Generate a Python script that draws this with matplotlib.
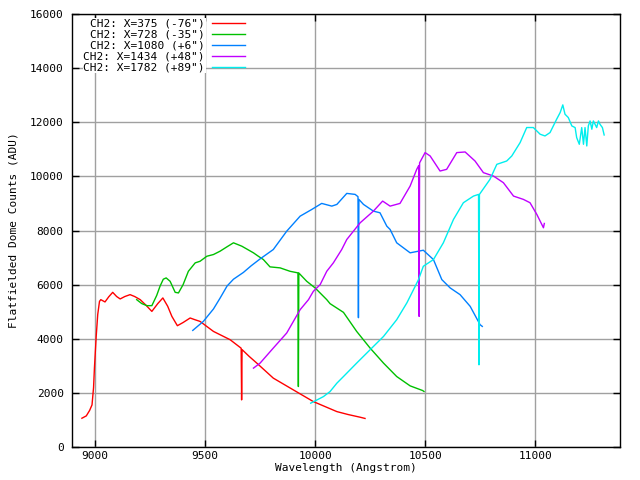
import matplotlib
matplotlib.use("Agg")
from matplotlib import pyplot as plt

wl_375 = [8940, 8960, 8975, 8986, 8993, 8997, 9005, 9012, 9020, 9026, 9045, 9062, 9080, 9098,
          9114, 9135, 9159, 9180, 9205, 9230, 9258, 9285, 9308, 9330, 9349, 9374, 9400, 9432,
          9455, 9477, 9538, 9614, 9664, 9666, 9668, 9700, 9735, 9810, 9901, 9992, 10099, 10150,
          10205, 10227]
ct_375 = [1063, 1150, 1350, 1556, 2200, 2926, 4085, 4900, 5382, 5445, 5360, 5550, 5715, 5560,
          5471, 5560, 5630, 5560, 5445, 5250, 5011, 5300, 5508, 5200, 4826, 4482, 4600, 4767,
          4700, 4641, 4271, 3963, 3650, 1741, 3600, 3350, 3100, 2545, 2111, 1678, 1308, 1200,
          1100, 1055]

wl_728 = [9189, 9212, 9235, 9258, 9280, 9295, 9310, 9323, 9341, 9364, 9379, 9400, 9424, 9455,
          9477, 9508, 9538, 9568, 9600, 9629, 9667, 9720, 9742, 9765, 9795, 9841, 9886, 9922,
          9924, 9926, 9962, 10000, 10053, 10068, 10129, 10189, 10250, 10311, 10371, 10432,
          10489, 10495]
ct_728 = [5445, 5300, 5223, 5223, 5600, 5938, 6200, 6248, 6123, 5715, 5693, 6000, 6493, 6804,
          6863, 7049, 7112, 7235, 7400, 7545, 7420, 7174, 7049, 6926, 6656, 6619, 6493, 6434,
          2234, 6430, 6123, 5878, 5445, 5297, 4975, 4271, 3656, 3100, 2604, 2259,
          2086, 2050]

wl_1080 = [9444, 9492, 9538, 9568, 9600, 9629, 9674, 9710, 9750, 9810, 9871, 9932, 9985, 10030,
           10076, 10099, 10144, 10182, 10195, 10197, 10199, 10220, 10265, 10295, 10326, 10341,
           10371, 10432, 10492, 10538, 10576, 10614, 10659, 10705, 10750, 10760]
ct_1080 = [4308, 4641, 5100, 5500, 5950, 6200, 6450, 6700, 6950, 7297, 7975, 8530, 8778, 9001,
           8901, 8964, 9371, 9334, 9250, 4778, 9150, 8964, 8716, 8655, 8160, 8038,
           7545, 7175, 7271, 6926, 6186, 5878, 5630, 5197, 4519, 4456]

wl_1434 = [9720, 9750, 9810, 9871, 9932, 9970, 9992, 10023, 10053, 10083, 10121, 10144, 10205,
           10265, 10307, 10341, 10386, 10432, 10462, 10471, 10473, 10475, 10500, 10523, 10568,
           10598, 10644, 10682, 10727, 10765, 10811, 10856, 10902, 10947, 10977, 11008, 11038,
           11042]
ct_1434 = [2915, 3100, 3656, 4212, 5074, 5445, 5752, 6000, 6493, 6804, 7297, 7667, 8286,
           8716, 9087, 8901, 9001, 9642, 10260, 10400, 4826, 10500, 10878, 10754, 10198,
           10260, 10878, 10902, 10568, 10138, 10012, 9766, 9272, 9149, 9026, 8593, 8101,
           8260]

wl_1782 = [9980, 10038, 10068, 10099, 10129, 10159, 10189, 10250, 10311, 10371, 10417, 10455,
           10470, 10492, 10538, 10583, 10629, 10674, 10720, 10743, 10745, 10747, 10795, 10826,
           10871, 10894, 10932, 10962, 10992, 11023, 11045, 11068, 11098, 11114, 11126, 11136,
           11151, 11167, 11182, 11189, 11201, 11212, 11220, 11227, 11235, 11242, 11250, 11258,
           11265, 11280, 11288, 11295, 11306, 11314]
ct_1782 = [1619, 1863, 2049, 2359, 2604, 2852, 3100, 3593, 4085, 4704, 5323, 5938,
           6186, 6678, 6926, 7545, 8408, 9026, 9272, 9334, 3037, 9334, 9890, 10445,
           10568, 10753, 11249, 11805, 11805, 11557, 11494, 11619, 12112, 12359, 12642, 12297,
           12174, 11864, 11803, 11434, 11186, 11803, 11186, 11803, 11124, 11864, 12049, 11742,
           12049, 11803, 12049, 11927, 11803, 11530]

labels = ['CH2: X=375 (-76")', 'CH2: X=728 (-35")', 'CH2: X=1080 (+6")',
          'CH2: X=1434 (+48")', 'CH2: X=1782 (+89")']
colors = ['#ff0000', '#00c000', '#0080ff', '#c000ff', '#00eeee']
xticks = [9000, 9500, 10000, 10500, 11000]
yticks = [0, 2000, 4000, 6000, 8000, 10000, 12000, 14000, 16000]

plt.rcParams['font.family'] = 'DejaVu Sans Mono'
plt.rcParams['font.size'] = 8

fig = plt.figure(figsize=(6.4, 4.8), dpi=100)
ax = fig.add_axes([0.1125, 0.06875, 0.85625, 0.90208])

series = [(wl_375, ct_375), (wl_728, ct_728), (wl_1080, ct_1080),
          (wl_1434, ct_1434), (wl_1782, ct_1782)]
for (w, c), col in zip(series, colors):
    ax.plot(w, c, color=col, lw=1)

ax.set_xlim(8895, 11386)
ax.set_ylim(0, 16000)
ax.set_xticks(xticks)
ax.set_yticks(yticks)
ax.grid(True, color='#a0a0a0', lw=1)
ax.set_axisbelow(True)
ax.tick_params(direction='in', top=True, right=True, length=5, width=1)
ax.tick_params(axis='x', pad=3)
ax.tick_params(axis='y', pad=6)
for s in ax.spines.values():
    s.set_linewidth(1)

ax.set_xlabel('Wavelength (Angstrom)', labelpad=1)
ax.set_ylabel('Flatfielded Dome Counts (ADU)', labelpad=8)

# gnuplot style key: text right aligned, sample line after it
for i, (lab, col) in enumerate(zip(labels, colors)):
    y = 0.9785 - i * 0.0254
    ax.text(0.2427, y, lab, transform=ax.transAxes, ha='right', va='center',
            bbox=dict(facecolor='white', edgecolor='none', pad=0.5))
    ax.plot([0.2555, 0.3157], [y, y], color=col, lw=1, transform=ax.transAxes)

fig.savefig('out.png', dpi=100)
